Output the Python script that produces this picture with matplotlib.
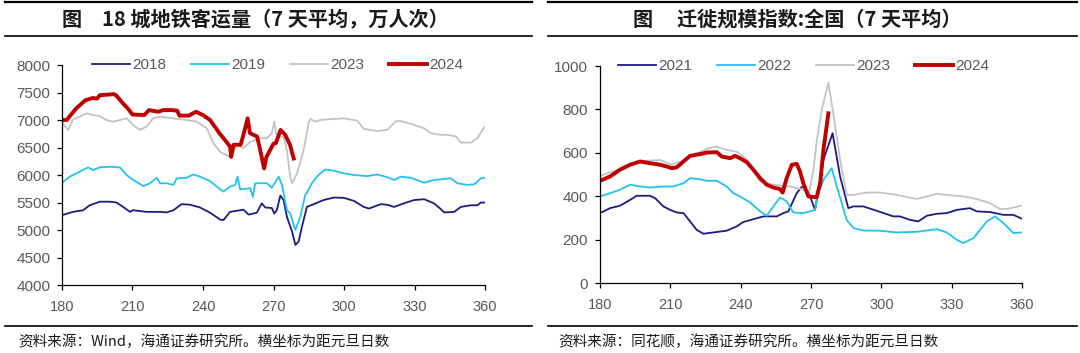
import matplotlib
matplotlib.use("Agg")
import matplotlib.pyplot as plt
from matplotlib.lines import Line2D

plt.rcParams['font.family'] = ['Liberation Sans', 'Noto Sans CJK SC', 'DejaVu Sans']

# ---- 左图：城地铁客运量（7天平均，万人次） ----
metro_d_2018 = [180, 184.7, 189, 191.8, 196.1, 200.3, 203.2, 206, 208.9, 210.3,
                216, 221.7, 224.5, 227.4, 230.9, 234.5, 238.7, 243, 247.3, 248.7,
                251.5, 255.8, 257.2, 259.4, 262.9, 265, 266.5, 269.3, 270.3, 271.4,
                272.9, 274.3, 275.7, 277.9, 279.3, 280.7, 282.1, 284.2, 287.1, 291.3,
                295.6, 299.9, 304.2, 308.4, 310.6, 315.6, 318.4, 321.3, 325.5, 329.8,
                334.1, 338.3, 341.2, 342.6, 346.9, 349.7, 354, 356.8, 358.2, 360]
metro_v_2018 = [5270, 5330, 5360, 5450, 5515, 5515, 5500, 5420, 5330, 5360,
                5330, 5330, 5320, 5360, 5470, 5460, 5410, 5315, 5190, 5180,
                5330, 5360, 5370, 5280, 5315, 5485, 5410, 5400, 5300, 5360,
                5625, 5545, 5240, 4970, 4730, 4790, 5060, 5420, 5470, 5545,
                5590, 5585, 5530, 5420, 5390, 5470, 5460, 5420, 5485, 5545,
                5560, 5485, 5380, 5320, 5330, 5420, 5450, 5450, 5500, 5500]

metro_d_2019 = [180, 183.3, 187.5, 191.1, 193.2, 196.1, 200.3, 204.6, 207.5, 210.3,
                214.6, 217.4, 220.3, 221.7, 224.5, 227.4, 228.8, 233, 235.9, 238.7,
                243, 247.3, 248.7, 251.5, 253.7, 254.7, 255.8, 260.1, 261.2, 262.2,
                267.2, 269.3, 272.2, 273.6, 275.7, 277.1, 279.3, 281.4, 283.5, 284.9,
                286.3, 288.5, 289.9, 292, 295.6, 299.9, 304.2, 309.9, 314.1, 318.4,
                321.3, 324.1, 328.4, 334.1, 338.3, 345.4, 348.3, 352.5, 355.4, 358.2, 360]
metro_v_2019 = [5860, 5970, 6060, 6140, 6090, 6140, 6150, 6140, 6000, 5910,
                5800, 5850, 5950, 5850, 5850, 5820, 5940, 5950, 6010, 5970,
                5890, 5740, 5700, 5790, 5820, 5970, 5740, 5760, 5600, 5850,
                5850, 5770, 5970, 5820, 5360, 5300, 5000, 5240, 5640, 5730,
                5850, 5970, 6030, 6100, 6080, 6030, 6000, 5980, 6010, 5960,
                5910, 5970, 5950, 5860, 5910, 5940, 5850, 5820, 5830, 5940, 5950]

metro_d_2023 = [180, 182.6, 184.7, 187.5, 190.4, 193.2, 196.1, 198.9, 201.8, 204.6,
                207.5, 210.3, 213.1, 216, 218.8, 221.7, 227.4, 233, 237.3, 241.6,
                244.4, 247.3, 251.5, 254.4, 257.2, 260.1, 264.3, 267.2, 269.3, 270.3,
                271.4, 274.3, 275.7, 277.1, 277.9, 280, 282.8, 284.9, 285.6, 287.8,
                289.9, 295.6, 299.9, 305.6, 308.4, 314.1, 318.4, 322, 324.1, 328.4,
                334.1, 336.9, 341.2, 344, 347.6, 349.7, 354, 356.8, 358.9, 360]
metro_v_2023 = [6950, 6820, 7010, 7060, 7120, 7090, 7070, 7000, 6970, 7000,
                7030, 6910, 6820, 6880, 7030, 7060, 7030, 7000, 6970, 6850,
                6580, 6420, 6330, 6550, 6490, 6600, 6670, 6670, 6760, 6970,
                6700, 6690, 6450, 5970, 5850, 6030, 6450, 6940, 7020, 6970,
                7000, 7020, 7030, 6990, 6840, 6800, 6820, 6980, 6980, 6930,
                6850, 6760, 6730, 6730, 6700, 6590, 6590, 6670, 6820, 6880]

metro_d_2024 = [180, 182, 186, 190, 193, 195, 196, 202, 203, 206,
                208, 210, 215, 217, 221, 223, 227, 229, 230, 234,
                237, 240, 243, 247, 251.5, 252, 253, 256, 257, 259,
                260, 263, 264, 266, 267, 270, 271, 273, 275, 277, 278.6]
metro_v_2024 = [7000, 7000, 7210, 7360, 7400, 7390, 7450, 7470, 7450, 7300,
                7210, 7100, 7090, 7180, 7150, 7180, 7180, 7170, 7080, 7080,
                7150, 7090, 7000, 6760, 6520, 6330, 6550, 6550, 6700, 7030,
                6760, 6700, 6520, 6120, 6330, 6570, 6580, 6820, 6730, 6550, 6300]

# ---- 右图：迁徙规模指数:全国（7天平均） ----
mig_d_2021 = [180, 184.3, 188.5, 192.8, 195.6, 201.3, 203.5, 207, 209.9, 212.7,
              215.6, 218.4, 221.2, 224.1, 228.3, 234, 238.3, 241.1, 245.4, 249.7,
              255.4, 258.2, 260.3, 263.9, 266, 266.7, 269.6, 271.7, 275.3, 279.2,
              282.4, 285.9, 288.1, 292.3, 298, 305.1, 307.9, 312.2, 315.8, 319.4,
              323.6, 327.9, 332.2, 337.8, 340.7, 346.4, 352.1, 356.3, 360]
mig_v_2021 = [322, 345, 356, 383, 402, 402, 391, 353, 337, 325,
              322, 284, 245, 227, 233, 241, 261, 281, 294, 307,
              307, 322, 330, 414, 442, 445, 399, 337, 568, 690,
              491, 345, 353, 353, 333, 307, 307, 291, 284, 310,
              319, 322, 337, 345, 330, 327, 314, 314, 296]

mig_d_2022 = [180, 184.3, 188.5, 192.8, 197.1, 201.3, 207, 211.3, 215.6, 218.4,
              222.7, 225.5, 229.8, 234, 236.9, 239.7, 244, 248.3, 251.1, 253.9,
              256.8, 259.6, 262.5, 266.7, 269.6, 271.7, 273.1, 275.3, 278.8, 281,
              285.2, 288.1, 292.3, 299.4, 306.6, 315.1, 323.6, 327.9, 332.2, 335,
              339.3, 345, 348.5, 352.1, 356.3, 360]
mig_v_2022 = [399, 414, 430, 453, 445, 440, 445, 445, 460, 483,
              478, 471, 471, 445, 414, 399, 371, 330, 310, 353,
              394, 376, 325, 322, 330, 337, 414, 475, 529, 445,
              291, 253, 242, 241, 233, 236, 248, 233, 199, 184,
              207, 284, 307, 276, 230, 233]

mig_d_2023 = [180, 188.5, 197.1, 205.6, 210.6, 215.6, 219.8, 225.5, 229.1, 234,
              238.3, 242.6, 248.3, 253.9, 261.1, 266.7, 269.3, 271, 272.4, 274.6,
              277.4, 279.5, 282.4, 285.2, 288.1, 293.8, 299.4, 306.6, 315.1, 323.6,
              327.9, 335, 340.7, 346.4, 350.6, 353.5, 360]
mig_v_2023 = [494, 525, 562, 567, 545, 565, 590, 617, 629, 614,
              605, 570, 468, 453, 445, 430, 420, 520, 650, 800,
              923, 782, 568, 406, 406, 417, 417, 406, 387, 411,
              406, 399, 387, 368, 341, 341, 357]

mig_d_2024 = [180, 184.3, 188.5, 192.8, 197.1, 201.3, 205.6, 208.4, 210.6, 212.7,
              215.6, 218.4, 222.7, 225.5, 229.8, 231.9, 235.5, 237.6, 239.7, 242.6,
              245.4, 248.3, 251.1, 253.9, 256.8, 257.9, 259.6, 261.8, 263.9, 265.3,
              266.7, 268.9, 272.4, 273.9, 275.3, 277.4]
mig_v_2024 = [471, 491, 522, 545, 560, 552, 545, 537, 529, 533,
              560, 586, 594, 601, 603, 583, 575, 586, 575, 557,
              522, 483, 453, 440, 433, 417, 483, 545, 549, 514,
              460, 399, 395, 460, 614, 782]

x_ticks = [180, 210, 240, 270, 300, 330, 360]
metro_y_ticks = [4000, 4500, 5000, 5500, 6000, 6500, 7000, 7500, 8000]
mig_y_ticks = [0, 200, 400, 600, 800, 1000]

C_NAVY = '#1c1c80'
C_CYAN = '#21c4ef'
C_GRAY = '#c3c3c3'
C_RED = '#c00000'
TXT = '#595959'
CJK = ['Noto Sans CJK SC', 'DejaVu Sans']


def style_axes(ax, yticks):
    ax.set_xlim(180, 360)
    ax.set_xticks(x_ticks)
    ax.set_ylim(yticks[0], yticks[-1])
    ax.set_yticks(yticks)
    for s in ['top', 'right']:
        ax.spines[s].set_visible(False)
    for s in ['left', 'bottom']:
        ax.spines[s].set_linewidth(0.9)
    ax.tick_params(axis='both', direction='out', length=3.5, width=0.9,
                   labelcolor=TXT)
    ax.tick_params(axis='x', pad=7, labelsize=10.5)
    ax.tick_params(axis='y', pad=5, labelsize=11)


def add_legend(ax, x_anchor):
    ax.legend(loc='center left', bbox_to_anchor=(x_anchor, 1.0), ncol=4,
              frameon=False, fontsize=11, handlelength=2.5, borderpad=0,
              borderaxespad=0, columnspacing=1.6, handletextpad=0.15,
              labelcolor=TXT)


fig = plt.figure(figsize=(10.8, 3.53), dpi=100)

ax1 = fig.add_axes([0.0574, 0.1926, 0.3917, 0.6232])
ax1.plot(metro_d_2018, metro_v_2018, color=C_NAVY, lw=1.3, label='2018')
ax1.plot(metro_d_2019, metro_v_2019, color=C_CYAN, lw=1.3, label='2019')
ax1.plot(metro_d_2023, metro_v_2023, color=C_GRAY, lw=1.3, label='2023')
ax1.plot(metro_d_2024, metro_v_2024, color=C_RED, lw=2.8, label='2024')
style_axes(ax1, metro_y_ticks)
add_legend(ax1, 0.071)

ax2 = fig.add_axes([0.5556, 0.1983, 0.3907, 0.6147])
ax2.plot(mig_d_2021, mig_v_2021, color=C_NAVY, lw=1.3, label='2021')
ax2.plot(mig_d_2022, mig_v_2022, color=C_CYAN, lw=1.3, label='2022')
ax2.plot(mig_d_2023, mig_v_2023, color=C_GRAY, lw=1.3, label='2023')
ax2.plot(mig_d_2024, mig_v_2024, color=C_RED, lw=2.8, label='2024')
style_axes(ax2, mig_y_ticks)
add_legend(ax2, 0.043)

# 标题框线与底部线
for x0, x1 in [(0.005, 0.493), (0.507, 0.997)]:
    fig.add_artist(Line2D([x0, x1], [0.993, 0.993], color='black', lw=1.6))
    fig.add_artist(Line2D([x0, x1], [0.899, 0.899], color='black', lw=1.2))
    fig.add_artist(Line2D([x0, x1], [0.0765, 0.0765], color='black', lw=1.2))

title_kw = dict(ha='left', va='center', fontsize=14.5, fontweight='bold',
                family=CJK, color='#1a1a1a')
fig.text(0.0574, 0.946, '图', **title_kw)
fig.text(0.0944, 0.946, '18 城地铁客运量（7 天平均，万人次）', **title_kw)
fig.text(0.586, 0.946, '图', **title_kw)
fig.text(0.627, 0.946, '迁徙规模指数:全国（7 天平均）', **title_kw)

src_kw = dict(ha='left', va='center', fontsize=10.5, family=CJK, color='#1a1a1a')
fig.text(0.0167, 0.031, '资料来源：Wind，海通证券研究所。横坐标为距元旦日数', **src_kw)
fig.text(0.5167, 0.031, '资料来源：同花顺，海通证券研究所。横坐标为距元旦日数', **src_kw)

fig.savefig('out.png', dpi=100)
